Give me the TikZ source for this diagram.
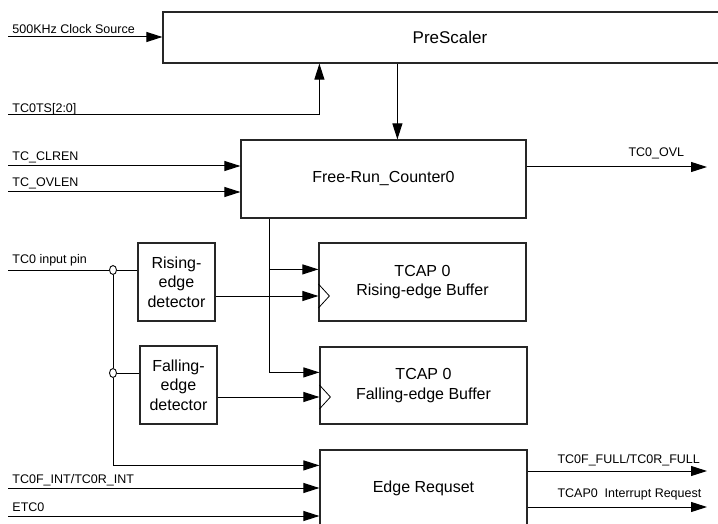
\documentclass[tikz,border=0pt]{standalone}
\usepackage{fontspec}
\setmainfont{Liberation Sans}
\usetikzlibrary{arrows.meta,shapes.geometric}
\begin{document}
\begin{tikzpicture}[x=1pt,y=1pt,line width=1pt]
\tikzstyle{every node}+=[inner sep=0pt]
\tikzstyle{blk}=[draw=black!85,line width=1.2pt,align=center,font=\fontsize{16}{19.5}\selectfont]
\tikzstyle{lbl}=[font=\fontsize{12.5}{15}\selectfont]
\tikzstyle{arr}=[-{Triangle[length=16pt,width=10pt]}]
\tikzstyle{jct}=[draw,fill=white,ellipse,minimum width=7pt,minimum height=9pt,line width=0.9pt]
\useasboundingbox (0,0) rectangle (718,-524);
\clip (0,0) rectangle (718,-524);
\node [blk,minimum width=574pt,minimum height=51pt,font=\fontsize{17}{20}\selectfont] (pre) at (450,-37.5) {PreScaler};
\node [blk,minimum width=285pt,minimum height=78pt] (frc) at (383.5,-179) {Free-Run\_Counter0};
\node [blk,minimum width=77pt,minimum height=78pt] (rise) at (176.5,-282) {Rising-\\edge\\detector};
\node [blk,minimum width=77pt,minimum height=78pt] (fall) at (178.5,-385) {Falling-\\edge\\detector};
\node [blk,minimum width=207pt,minimum height=78pt] (rbuf) at (422.5,-282) {TCAP 0\\Rising-edge Buffer};
\node [blk,minimum width=207pt,minimum height=77pt] (fbuf) at (423.5,-385.5) {TCAP 0\\Falling-edge Buffer};
\node [blk,minimum width=207pt,minimum height=76pt] (edge) at (423.5,-488) {Edge Requset};
\coordinate (clk) at (8,-37);
\coordinate (ts) at (8,-115);
\coordinate (clr) at (8,-166);
\coordinate (ovl) at (8,-192);
\coordinate (pin) at (8,-270);
\coordinate (int) at (8,-488);
\coordinate (etc) at (8,-516);
\coordinate (ovlout) at (707,-167);
\coordinate (full) at (707,-471);
\coordinate (req) at (707,-507);
\coordinate (tap) at ([xshift=29pt]frc.south west);
\coordinate (rin) at ([yshift=-27pt]rbuf.north west);
\node [jct] (j1) at (113,-270) {};
\node [jct] (j2) at (113,-373) {};
\draw [arr] (clk) -- (clk -| pre.west);
\draw [arr] (ts) -| ([xshift=157pt]pre.south west);
\draw [arr] ([xshift=235pt]pre.south west) -- ([xshift=157pt]frc.north west);
\draw [arr] (clr) -- (clr -| frc.west);
\draw [arr] (ovl) -- (ovl -| frc.west);
\draw [arr] (frc.east |- ovlout) -- (ovlout);
\draw (pin) -- (j1);
\draw (j1) -- (rise.west |- j1);
\draw (j1) -- (j2);
\draw (j2) -- (fall.west |- j2);
\draw [arr] (j2) |- ([yshift=-16pt]edge.north west);
\draw [arr] (tap) |- ([yshift=-26pt]fbuf.north west);
\draw [arr] (tap |- rin) -- (rin);
\draw [arr] ([yshift=-14pt]rise.east) -- ([yshift=-14pt]rise.east -| rbuf.west);
\draw [arr] ([yshift=-12pt]fall.east) -- ([yshift=-12pt]fall.east -| fbuf.west);
\draw [line width=0.8pt] ([yshift=-2pt]rbuf.west) -- ++(11,-12) -- ++(-11,-12);
\draw [line width=0.8pt] ([yshift=0.5pt]fbuf.west) -- ++(11,-12) -- ++(-11,-12);
\draw [arr] (int) -- (int -| edge.west);
\draw [arr] (etc) -- (etc -| edge.west);
\draw [arr] (edge.east |- full) -- (full);
\draw [arr] (edge.east |- req) -- (req);
\node [lbl,anchor=base west] (lclk) at (12,-33.5) {500KHz Clock Source};
\node [lbl,anchor=base west] (lts) at (12,-112.5) {TC0TS[2:0]};
\node [lbl,anchor=base west] (lclr) at (12,-160.5) {TC\_CLREN};
\node [lbl,anchor=base west] (lovl) at (12,-186.5) {TC\_OVLEN};
\node [lbl,anchor=base west] (lpin) at (12,-263.5) {TC0 input pin};
\node [lbl,anchor=base west] (lint) at (12,-483) {TC0F\_INT/TC0R\_INT};
\node [lbl,anchor=base west] (letc) at (12,-511.5) {ETC0};
\node [lbl,anchor=base west] (lovlout) at (628,-157) {TC0\_OVL};
\node [lbl,anchor=base west] (lfull) at (557,-463) {TC0F\_FULL/TC0R\_FULL};
\node [lbl,anchor=base west] (lreq) at (557,-497) {TCAP0~ Interrupt Request};
\end{tikzpicture}
\end{document}
